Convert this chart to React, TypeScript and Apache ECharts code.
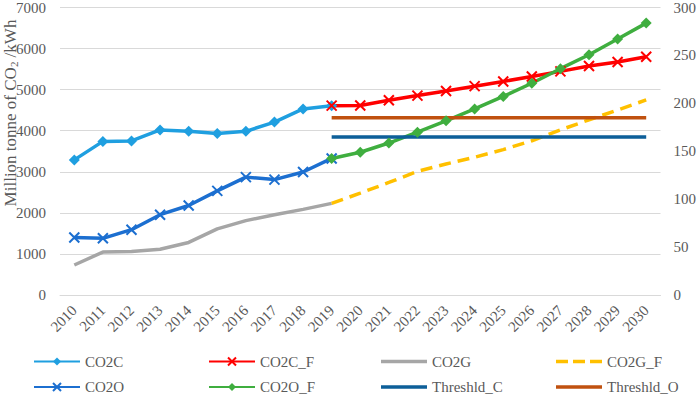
import React, { useEffect, useRef } from "react";
import * as echarts from "echarts";

const years = ["2010","2011","2012","2013","2014","2015","2016","2017","2018","2019","2020","2021","2022","2023","2024","2025","2026","2027","2028","2029","2030"];

const co2c = [3290, 3740, 3750, 4020, 3985, 3935, 3985, 4210, 4530, 4610, null, null, null, null, null, null, null, null, null, null, null];
const co2cF = [null, null, null, null, null, null, null, null, null, 4610, 4615, 4740, 4855, 4965, 5085, 5200, 5320, 5445, 5575, 5675, 5800];
const co2g = [730, 1045, 1060, 1115, 1280, 1610, 1810, 1955, 2085, 2230, null, null, null, null, null, null, null, null, null, null, null];
const co2gF = [null, null, null, null, null, null, null, null, null, 2230, 2480, 2740, 3010, 3190, 3355, 3540, 3755, 4020, 4265, 4505, 4750];
const co2o = [1400, 1380, 1590, 1955, 2180, 2535, 2870, 2810, 2995, 3325, null, null, null, null, null, null, null, null, null, null, null];
const co2oF = [null, null, null, null, null, null, null, null, null, 3325, 3475, 3700, 3965, 4240, 4530, 4835, 5155, 5510, 5850, 6235, 6620];
const threshC = [null, null, null, null, null, null, null, null, null, 165, 165, 165, 165, 165, 165, 165, 165, 165, 165, 165, 165];
const threshO = [null, null, null, null, null, null, null, null, null, 185, 185, 185, 185, 185, 185, 185, 185, 185, 185, 185, 185];

// legend columns (top row, bottom row)
const legendCols = [
  ["CO2C", "CO2O"],
  ["CO2C_F", "CO2O_F"],
  ["CO2G", "Threshld_C"],
  ["CO2G_F", "Threshld_O"],
];
const legendLefts = [33, 208, 381, 556];

const FONT = "Liberation Serif";
const TXT = "#595959";
const CROSS = "path://M0,0L10,10M10,0L0,10";
const BAR_ICON = "path://M0,0H46V3.5H0Z";
const DASH_ICON = "path://M0,0H12V3.5H0Z M17,0H29V3.5H17Z M34,0H46V3.5H34Z";
const iconFor: Record<string, string> = {
  CO2G: BAR_ICON,
  Threshld_C: BAR_ICON,
  Threshld_O: BAR_ICON,
  CO2G_F: DASH_ICON,
};

export default function App() {
  const ref = useRef<HTMLDivElement>(null);
  useEffect(() => {
    if (!ref.current) return;
    const chart = echarts.init(ref.current, null, { renderer: "svg" });
    const lineSeries = (name: string, data: any[], color: string, extra: any = {}) => ({
      name,
      type: "line",
      data,
      yAxisIndex: 0,
      lineStyle: { color, width: 3.5 },
      itemStyle: { color },
      symbol: "none",
      connectNulls: false,
      ...extra,
    });
    const legends = legendCols.map((names, i) => ({
      left: legendLefts[i],
      top: 354,
      width: 170,
      height: 60,
      orient: "vertical",
      padding: 0,
      itemWidth: 46,
      itemHeight: 10,
      itemGap: 10.5,
      textStyle: { fontFamily: FONT, fontSize: 15, color: TXT, lineHeight: 15 },
      data: names.map((n) => (iconFor[n] ? { name: n, icon: iconFor[n] } : { name: n })),
    }));
    chart.setOption({
      animation: false,
      grid: { left: 60, right: 35, top: 5, bottom: 99, containLabel: false },
      legend: legends,
      xAxis: {
        type: "category",
        data: years,
        boundaryGap: true,
        axisLine: { lineStyle: { color: "#d9d9d9", width: 1 } },
        axisTick: { show: false },
        axisLabel: { rotate: 45, fontFamily: FONT, fontSize: 15, color: TXT, margin: 13, interval: 0 },
      },
      yAxis: [
        {
          type: "value",
          min: 0,
          max: 7000,
          interval: 1000,
          axisLine: { show: false },
          axisTick: { show: false },
          splitLine: { lineStyle: { color: "#d9d9d9", width: 1 } },
          axisLabel: { fontFamily: FONT, fontSize: 15, color: TXT, margin: 14, formatter: (v: number) => String(v) },
        },
        {
          type: "value",
          min: 0,
          max: 300,
          interval: 50,
          position: "right",
          axisLine: { show: false },
          axisTick: { show: false },
          splitLine: { show: false },
          axisLabel: { fontFamily: FONT, fontSize: 15, color: TXT, margin: 13, formatter: (v: number) => String(v) },
        },
      ],
      graphic: [
        {
          type: "text",
          x: 9,
          y: 113,
          rotation: Math.PI / 2,
          style: {
            text: "{a|Million tonne of CO}{s|2}{a| /kWh}",
            align: "center",
            verticalAlign: "middle",
            fill: TXT,
            rich: {
              a: { fontFamily: FONT, fontSize: 17, fill: TXT, verticalAlign: "bottom", lineHeight: 20 },
              s: { fontFamily: FONT, fontSize: 11, fill: TXT, verticalAlign: "bottom", lineHeight: 14 },
            },
          },
        },
      ],
      series: [
        lineSeries("CO2C", co2c, "#1f9fe0", { symbol: "diamond", symbolSize: 11 }),
        lineSeries("CO2C_F", co2cF, "#ff0000", {
          symbol: CROSS,
          symbolSize: 10,
          itemStyle: { color: "#ff0000", borderColor: "#ff0000", borderWidth: 2 },
        }),
        lineSeries("CO2G", co2g, "#a6a6a6"),
        lineSeries("CO2G_F", co2gF, "#ffc000", { lineStyle: { color: "#ffc000", width: 3.5, type: [12, 7] } }),
        lineSeries("CO2O", co2o, "#1c6fd0", {
          symbol: CROSS,
          symbolSize: 10,
          itemStyle: { color: "#1c6fd0", borderColor: "#1c6fd0", borderWidth: 2 },
        }),
        lineSeries("CO2O_F", co2oF, "#3fae3f", { symbol: "diamond", symbolSize: 11 }),
        lineSeries("Threshld_C", threshC, "#0d5f99", { yAxisIndex: 1 }),
        lineSeries("Threshld_O", threshO, "#c0510f", { yAxisIndex: 1 }),
      ],
    });
    return () => chart.dispose();
  }, []);
  return <div ref={ref} style={{ width: 699, height: 394, position: "absolute", left: 0, top: 0 }} />;
}
